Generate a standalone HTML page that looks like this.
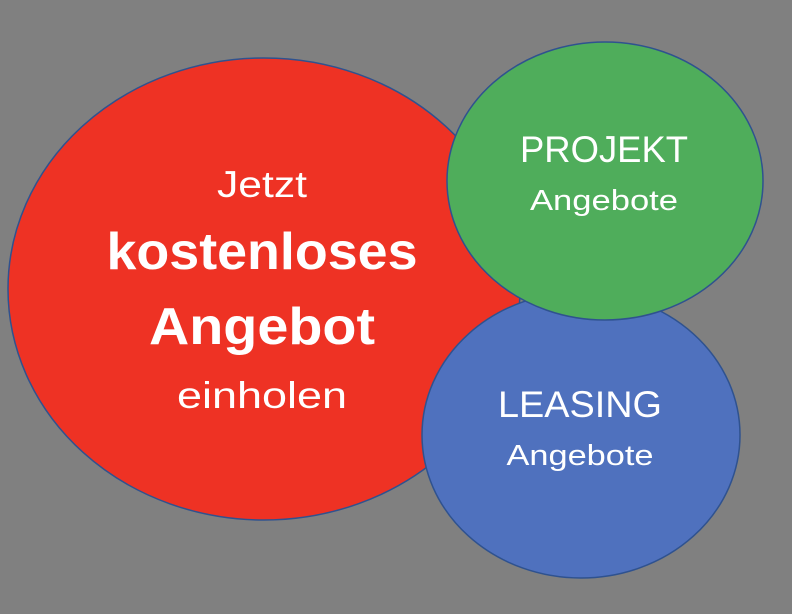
<!DOCTYPE html>
<html><head><meta charset="utf-8"><style>
html,body{margin:0;padding:0;background:#808080;}
svg{display:block;}
text{font-family:"Liberation Sans",sans-serif;fill:#fff;text-anchor:middle;}
</style></head><body>
<svg width="792" height="614" viewBox="0 0 792 614">
<rect width="792" height="614" fill="#808080"/>
<ellipse cx="264" cy="289" rx="256" ry="231" fill="#ee3224" stroke="#2f528f" stroke-width="1.5"/>
<ellipse cx="581" cy="435" rx="159" ry="143" fill="#4f71be" stroke="#2f528f" stroke-width="1.5"/>
<ellipse cx="605" cy="181" rx="158" ry="139" fill="#4fad5b" stroke="#2f528f" stroke-width="1.5"/>
<text x="262" y="197" font-size="37" textLength="90" lengthAdjust="spacingAndGlyphs">Jetzt</text>
<text x="262" y="269" font-size="52" font-weight="bold" textLength="311" lengthAdjust="spacingAndGlyphs">kostenloses</text>
<text x="262" y="344" font-size="52" font-weight="bold" textLength="226" lengthAdjust="spacingAndGlyphs">Angebot</text>
<text x="262" y="408" font-size="37" textLength="170" lengthAdjust="spacingAndGlyphs">einholen</text>
<text x="604" y="162" font-size="37" textLength="168" lengthAdjust="spacingAndGlyphs">PROJEKT</text>
<text x="604" y="210" font-size="29" textLength="148" lengthAdjust="spacingAndGlyphs">Angebote</text>
<text x="580" y="417" font-size="37" textLength="164" lengthAdjust="spacingAndGlyphs">LEASING</text>
<text x="580" y="465" font-size="29" textLength="147" lengthAdjust="spacingAndGlyphs">Angebote</text>
</svg>
</body></html>
